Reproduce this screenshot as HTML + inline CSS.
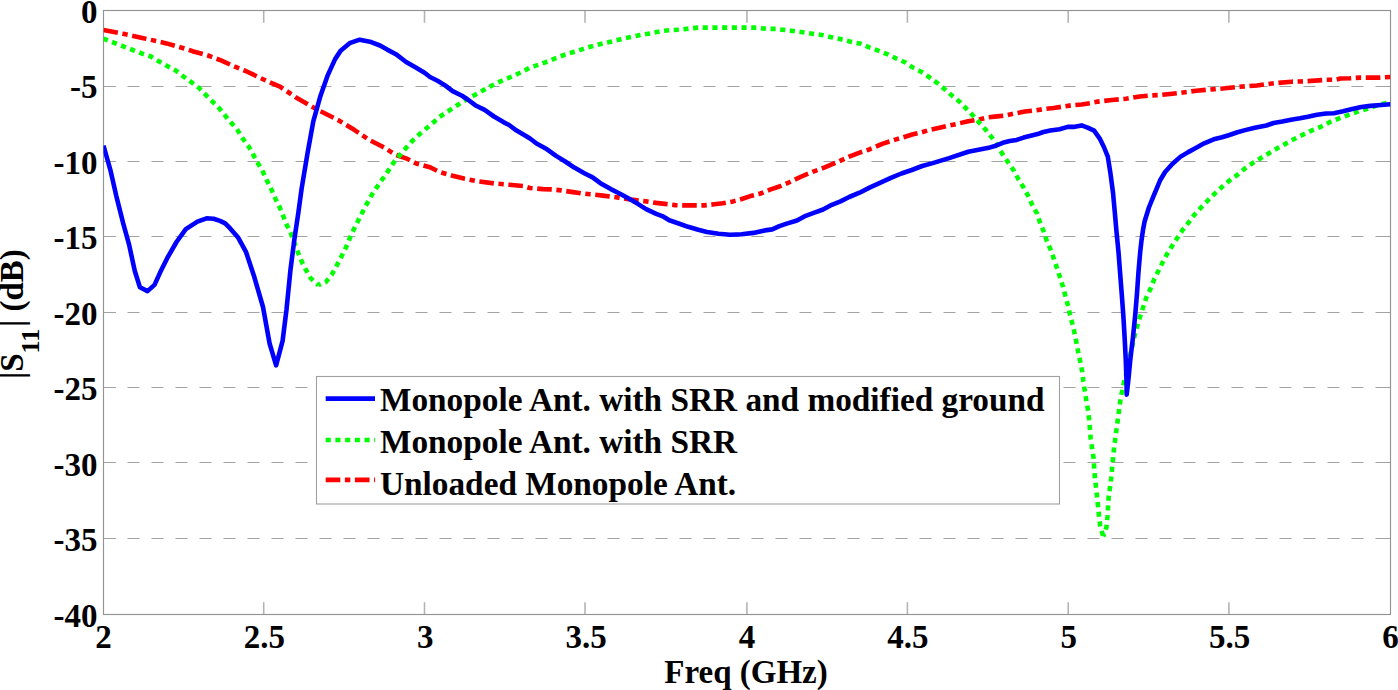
<!DOCTYPE html>
<html><head><meta charset="utf-8"><style>
html,body{margin:0;padding:0;background:#fff;}
svg{display:block;}
.t{font-family:"Liberation Serif",serif;font-weight:bold;font-size:33px;fill:#000;}
</style></head><body>
<svg width="1398" height="690" viewBox="0 0 1398 690">
<defs><clipPath id="c"><rect x="103.5" y="7.5" width="1287.0" height="610.0"/></clipPath></defs>
<rect width="1398" height="690" fill="#fff"/>
<line x1="103.5" y1="86.5" x2="1390.5" y2="86.5" stroke="#a2a2a2" stroke-width="1" stroke-dasharray="12 12"/>
<line x1="103.5" y1="161.5" x2="1390.5" y2="161.5" stroke="#a2a2a2" stroke-width="1" stroke-dasharray="12 12"/>
<line x1="103.5" y1="236.5" x2="1390.5" y2="236.5" stroke="#a2a2a2" stroke-width="1" stroke-dasharray="12 12"/>
<line x1="103.5" y1="312.5" x2="1390.5" y2="312.5" stroke="#a2a2a2" stroke-width="1" stroke-dasharray="12 12"/>
<line x1="103.5" y1="387.5" x2="1390.5" y2="387.5" stroke="#a2a2a2" stroke-width="1" stroke-dasharray="12 12"/>
<line x1="103.5" y1="462.5" x2="1390.5" y2="462.5" stroke="#a2a2a2" stroke-width="1" stroke-dasharray="12 12"/>
<line x1="103.5" y1="538.5" x2="1390.5" y2="538.5" stroke="#a2a2a2" stroke-width="1" stroke-dasharray="12 12"/>
<line x1="263.7" y1="10.5" x2="263.7" y2="22.8" stroke="#b4b4b4" stroke-width="1.6"/>
<line x1="263.7" y1="614.5" x2="263.7" y2="602.2" stroke="#b4b4b4" stroke-width="1.6"/>
<line x1="424.5" y1="10.5" x2="424.5" y2="22.8" stroke="#b4b4b4" stroke-width="1.6"/>
<line x1="424.5" y1="614.5" x2="424.5" y2="602.2" stroke="#b4b4b4" stroke-width="1.6"/>
<line x1="585.0" y1="10.5" x2="585.0" y2="22.8" stroke="#b4b4b4" stroke-width="1.6"/>
<line x1="585.0" y1="614.5" x2="585.0" y2="602.2" stroke="#b4b4b4" stroke-width="1.6"/>
<line x1="746.9" y1="10.5" x2="746.9" y2="22.8" stroke="#b4b4b4" stroke-width="1.6"/>
<line x1="746.9" y1="614.5" x2="746.9" y2="602.2" stroke="#b4b4b4" stroke-width="1.6"/>
<line x1="907.4" y1="10.5" x2="907.4" y2="22.8" stroke="#b4b4b4" stroke-width="1.6"/>
<line x1="907.4" y1="614.5" x2="907.4" y2="602.2" stroke="#b4b4b4" stroke-width="1.6"/>
<line x1="1068.2" y1="10.5" x2="1068.2" y2="22.8" stroke="#b4b4b4" stroke-width="1.6"/>
<line x1="1068.2" y1="614.5" x2="1068.2" y2="602.2" stroke="#b4b4b4" stroke-width="1.6"/>
<line x1="1228.9" y1="10.5" x2="1228.9" y2="22.8" stroke="#b4b4b4" stroke-width="1.6"/>
<line x1="1228.9" y1="614.5" x2="1228.9" y2="602.2" stroke="#b4b4b4" stroke-width="1.6"/>
<line x1="103.5" y1="86.5" x2="115.8" y2="86.5" stroke="#a2a2a2" stroke-width="1"/>
<line x1="1390.5" y1="86.5" x2="1378.2" y2="86.5" stroke="#a2a2a2" stroke-width="1"/>
<line x1="103.5" y1="161.5" x2="115.8" y2="161.5" stroke="#a2a2a2" stroke-width="1"/>
<line x1="1390.5" y1="161.5" x2="1378.2" y2="161.5" stroke="#a2a2a2" stroke-width="1"/>
<line x1="103.5" y1="236.5" x2="115.8" y2="236.5" stroke="#a2a2a2" stroke-width="1"/>
<line x1="1390.5" y1="236.5" x2="1378.2" y2="236.5" stroke="#a2a2a2" stroke-width="1"/>
<line x1="103.5" y1="312.5" x2="115.8" y2="312.5" stroke="#a2a2a2" stroke-width="1"/>
<line x1="1390.5" y1="312.5" x2="1378.2" y2="312.5" stroke="#a2a2a2" stroke-width="1"/>
<line x1="103.5" y1="387.5" x2="115.8" y2="387.5" stroke="#a2a2a2" stroke-width="1"/>
<line x1="1390.5" y1="387.5" x2="1378.2" y2="387.5" stroke="#a2a2a2" stroke-width="1"/>
<line x1="103.5" y1="462.5" x2="115.8" y2="462.5" stroke="#a2a2a2" stroke-width="1"/>
<line x1="1390.5" y1="462.5" x2="1378.2" y2="462.5" stroke="#a2a2a2" stroke-width="1"/>
<line x1="103.5" y1="538.5" x2="115.8" y2="538.5" stroke="#a2a2a2" stroke-width="1"/>
<line x1="1390.5" y1="538.5" x2="1378.2" y2="538.5" stroke="#a2a2a2" stroke-width="1"/>
<rect x="103.5" y="10.5" width="1287.0" height="604.0" fill="none" stroke="#939393" stroke-width="1.15"/>
<g clip-path="url(#c)">
<polyline points="103.5,30.1 123.2,33.8 143.4,38.2 166.6,43.4 186.9,49.2 193.5,51.5 208,55.5 221,60.4 234.8,66.7 245.7,71 268,81.6 280,86.7 297.4,98.3 317.7,109.9 338,120 352.5,128.7 369.9,140.3 381.3,146 395.9,154.8 406,158.3 416.2,163.5 430,167.3 439.4,172 452.6,175.8 463.9,178.6 479,181.5 494,183.4 509.1,184.7 524.2,186.2 530,188 543,189.1 552.2,189.4 561.3,190.4 573,192.1 580.8,193.3 590,194.3 603,195.6 618.7,197.6 628.7,199.3 637.4,200.4 646.1,201.4 656.2,202.9 664.9,203.9 675.1,205.1 683.8,205.4 695.4,205.4 704.1,205.4 714.2,204.3 722.9,203.3 733,201.4 741.7,199 750.4,196.1 760.6,193.5 770.7,189.4 779.4,186.5 790,182 800.4,177 812.6,171.8 824.8,167.4 837,162.2 849.2,156.6 859.6,152.6 870,149.2 882.2,143.9 894.4,139.9 904.3,137 913,134.3 921.7,132.3 930.4,129.7 940.6,127.5 950,125.4 958,123.6 968.1,121.3 978.3,119.6 987,117.5 997,116.4 1005.1,115.5 1013.2,113.8 1024.8,111.5 1036.4,110.3 1043.4,109.1 1053.8,108 1063.1,106.5 1071.2,105.3 1081.6,104.5 1090,103.3 1098,101.6 1111.9,100 1125.8,98.8 1139.7,96.5 1150,95.5 1159.6,95 1167.5,94.2 1178.7,93.1 1186.7,92 1196.2,90.7 1205.8,89.9 1215.3,89.1 1224.9,88.3 1239.5,86.7 1256.9,85.5 1274.3,83.2 1291.7,81.7 1300,81.5 1311.1,80.9 1326.1,79.8 1335.2,79.8 1340.5,78.5 1350.2,78.3 1360,77.6 1379.6,77.6 1390.5,77" fill="none" stroke="#ff0000" stroke-width="4.6" stroke-dasharray="14.6 4.6 5.4 4.6" stroke-linejoin="round"/>
<polyline points="103.5,38.7 123.2,46.3 143.4,54.1 150.7,56.5 158.7,61.3 167.1,65.9 175.4,70.3 183.3,76.4 191.3,82.2 199,88 205.8,94.9 212.3,101.4 219.6,108.7 225.4,115.9 231.9,123.6 237.7,130.4 242.8,138.7 248.6,146.4 258.1,163.6 263,172 267.2,181.1 271.4,189.5 275.4,198.7 279.6,207.1 283.3,216.1 286.9,225.2 291.1,234 294.5,243.4 298,252.5 301.6,261.3 305.8,269.7 310.6,278.1 318.5,285.2" fill="none" stroke="#00ff00" stroke-width="4.6" stroke-dasharray="5.1 4.6" stroke-dashoffset="0.53" stroke-linejoin="round"/>
<polyline points="318.5,285.2 326,281.9 331.6,274.9 339.4,260.6 345.6,248.3 351.7,233.5 357.9,221.2 364.1,208.9 371.5,195.3 378.9,184.2 387.5,171.9 394.9,160.8 403.5,150.9 412.1,141.1 420,133.7 430,125.5 439.4,116.9 448.8,110.8 457.3,105.2 464.8,100.5 473.3,95.8 481.8,91.1 490.3,86.4 498.7,82.2 507.2,78.5 514.7,75.4 522.3,71.7 530,67.5 540,64.3 549.4,60.7 558.1,57.2 567.5,53.7 576.2,51.4 585.6,48.1 595.1,45.4 604.5,43 614,41 622.6,38.6 632.1,36.8 641.5,34.9 650.9,33.3 660.4,31.2 669.8,30.1 679.3,29.7 688.7,28.6 698.1,27.6 717.8,27.6 737.5,27.6 756.5,27.6 766.5,28.9 776,28.9 785.4,30.1 794.8,31.2 804.3,32.5 813.7,33.9 823.2,35.2 832.6,37.5 842.1,39.6 851.5,41.9 860.9,43.8 869.6,47.5 879,50.9 887.7,54.4 896.3,58.5 905.1,62.3 913,67.7 921.7,72 929.7,77.5 937.7,83.3 944.9,89.4 952.5,96.1 960.1,102.2 966.7,109.1 973.2,115.9 979.7,123.2 986.2,130.4 992.3,138.1 997.5,146.3 1002.8,154.4 1008.3,162.6 1013.5,170.1 1018.3,179 1023.6,187.5 1028.3,196.1 1032.2,204.9 1037.1,213.7 1039.9,222.3 1043.8,231.6 1046.8,240.9 1050.8,250.1 1053.8,258.7 1056.8,267.5 1060,277.3 1063,286.6 1065.3,295.7 1067.8,304.8 1070,314.6 1072.4,323.9 1074.6,333.5 1076.5,342.8 1078.3,352.6 1080.4,362.4 1082.2,371.7 1083.3,381.3 1084.8,390.7 1086.3,400.4 1088,410.2 1089.1,418.9 1090.7,438.8 1093.5,457.7 1094.9,477.6 1097,496.5 1099.1,516.4 1100.2,525.9 1103.3,536.4" fill="none" stroke="#00ff00" stroke-width="4.6" stroke-dasharray="5.1 4.6" stroke-dashoffset="2.55" stroke-linejoin="round"/>
<polyline points="1103.3,536.4 1106.5,526.9 1107.5,516.4 1108.6,497.5 1111.1,478.7 1113.8,450.3 1117.6,421 1120.7,397.8 1123.9,382.6 1126.5,372.8 1128.3,363 1130.4,353.9 1132.6,344.6 1134.8,334.8 1137.4,325.7 1140.2,316.3 1143,307.6 1146.1,298 1150.4,289.1 1153.9,279.9 1158.2,271.2 1162.6,262.5 1166.9,254.4 1172.1,246 1177.4,237.7 1182.6,230 1189,222 1194.7,214.4 1201.2,207.4 1207.8,200.5 1214.7,193.6 1222,186.9 1229.4,180.6 1237.4,174.8 1244.6,168.7 1253,162.8 1261.3,157.8 1269.3,153 1277.7,148 1285.9,143.6 1294.2,139 1302.6,134.8 1311.7,130.5 1320.9,126.8 1330,122 1339.8,118.1 1348.9,114.8 1358.1,111.5 1367.2,108.9 1376.3,105.7 1385.5,103.1 1390.5,102.4" fill="none" stroke="#00ff00" stroke-width="4.6" stroke-dasharray="5.1 4.6" stroke-dashoffset="2.55" stroke-linejoin="round"/>
<polyline points="103.5,145.5 110.4,170.1 116.2,195.6 123.2,223.4 129,244.3 134.8,271 139.9,287.2 147.5,291.1 154.5,284.9 160.3,272.1 167.2,258.2 176.5,242 185.8,229.2 197.4,221.6 206.6,218.3 213.6,218.8 220,220.9 225.2,223.4 230.4,228.7 238.3,237.8 246.1,252.2 253.9,275.7 263,307 269.6,343.5 276.1,365.4 282.6,340.9 286.5,309.6 290.4,270.4 294.4,239.1 298.3,213 301.7,188.1 307.5,153.3 313.3,121.4 320.6,95.4 327.8,75.1 335.1,59.1 340.9,50.4 349.6,43.2 359.7,39.7 369.9,41.7 380,45.5 387.2,49.6 395.9,54.2 406.1,62 416.2,67.8 424.9,73 430,77 437.5,80.7 445.1,85.4 452.6,91.1 462,95.8 467.7,99.5 475.2,105.2 484.6,109.9 494,116.5 503.4,122.1 509.1,125 516.6,130.6 524.2,135 530,138.5 536.5,143.5 547,149.3 556.1,155.9 565.2,161.5 574.3,167.6 584.8,173.5 592.6,177.4 600.4,183.2 610.8,189.1 620,193.7 628.7,198.6 637.4,203.6 646.1,209.1 656.2,213.8 663.5,216.7 669.3,220.3 678,223.2 688.1,226.8 698.3,229.7 707,231.9 718.6,233.8 730.1,234.8 741.7,234.3 753.3,232.9 764.9,230.4 772.2,229.4 779.4,226.1 786.7,223.6 797,220.5 805.7,215.8 814.4,212.7 823.1,209.5 831.8,204.8 840.5,201.4 849.2,197 859.6,192.7 870,187.4 880.5,182.7 890.9,177.9 901.4,173.5 911.8,170 922.2,166 932.7,163.1 949.1,158.1 968.3,151.7 990,147.4 995.8,145.7 1002.8,142.8 1009.7,141 1016.7,139.9 1023.6,137.6 1030.6,135.8 1037.6,134.1 1043.4,132 1050.3,130.6 1059.6,129.2 1067.7,126.9 1073.5,126.9 1081.6,125.4 1087.6,127.6 1094.1,130.7 1099.6,138.3 1103.9,147 1107.8,156.7 1110.4,173 1113,192.6 1114.8,212.2 1116.5,231.7 1118.5,252 1120,271.7 1121.7,293.5 1123.3,315.2 1124.6,337 1125.7,358.7 1126.5,380.4 1126.7,394.6 1128.3,380.4 1130.4,358.7 1133,337 1135.2,315.2 1137,293.5 1138.5,271.7 1140.2,252 1141.5,240.4 1143,230 1144.6,221.5 1148.9,207.5 1153,197.4 1157.4,186.9 1160,180.5 1165.1,172 1172.3,164 1180.3,156.9 1188.2,152.1 1196.2,147.8 1204.2,143.3 1213.7,139.3 1222,137.3 1228.7,135.2 1237.4,132.3 1246.1,129.9 1254.8,127.7 1266.4,125.5 1273.6,123 1282.3,121.6 1291,119.7 1300,118.3 1307.8,116.8 1317,114.8 1326.1,113.5 1333.9,113.2 1343.1,111.2 1352.2,108.9 1361.3,107 1370.5,105.9 1380.9,105 1390.5,104.2" fill="none" stroke="#0000ff" stroke-width="4.6" stroke-linejoin="round"/>
</g>
<rect x="316.5" y="376.5" width="743" height="127.5" fill="#fff" stroke="#a0a0a0" stroke-width="1.1"/>
<line x1="325.7" y1="398.6" x2="375" y2="398.6" stroke="#0000ff" stroke-width="4.6"/>
<line x1="325.7" y1="440" x2="375.1" y2="440" stroke="#00ff00" stroke-width="4.6" stroke-dasharray="5.1 4.6"/>
<line x1="325.7" y1="479.9" x2="375.1" y2="479.9" stroke="#ff0000" stroke-width="4.6" stroke-dasharray="14.6 4.6 5.4 4.6"/>
<text x="380" y="410.6" class="t" style="font-size:33.3px">Monopole Ant. with SRR and modified ground</text>
<text x="380" y="452.6" class="t" style="font-size:33.3px">Monopole Ant. with SRR</text>
<text x="380" y="494.6" class="t" style="font-size:33.3px">Unloaded Monopole Ant.</text>
<text x="103.5" y="647.6" class="t" text-anchor="middle">2</text>
<text x="264.4" y="647.6" class="t" text-anchor="middle">2.5</text>
<text x="425.2" y="647.6" class="t" text-anchor="middle">3</text>
<text x="586.1" y="647.6" class="t" text-anchor="middle">3.5</text>
<text x="747.0" y="647.6" class="t" text-anchor="middle">4</text>
<text x="907.9" y="647.6" class="t" text-anchor="middle">4.5</text>
<text x="1068.8" y="647.6" class="t" text-anchor="middle">5</text>
<text x="1229.6" y="647.6" class="t" text-anchor="middle">5.5</text>
<text x="1390.5" y="647.6" class="t" text-anchor="middle">6</text>
<text x="97.5" y="22.5" class="t" text-anchor="end">0</text>
<text x="97.5" y="98.0" class="t" text-anchor="end">-5</text>
<text x="97.5" y="173.5" class="t" text-anchor="end">-10</text>
<text x="97.5" y="249.0" class="t" text-anchor="end">-15</text>
<text x="97.5" y="324.5" class="t" text-anchor="end">-20</text>
<text x="97.5" y="400.0" class="t" text-anchor="end">-25</text>
<text x="97.5" y="475.5" class="t" text-anchor="end">-30</text>
<text x="97.5" y="551.0" class="t" text-anchor="end">-35</text>
<text x="97.5" y="626.5" class="t" text-anchor="end">-40</text>
<text x="746" y="682.7" class="t" text-anchor="middle">Freq (GHz)</text>
<text class="t" transform="translate(23,379) rotate(-90)">|S<tspan font-size="26" dy="15.5">11</tspan><tspan dy="-15.5" dx="1.8">| (dB)</tspan></text>
</svg>
</body></html>
